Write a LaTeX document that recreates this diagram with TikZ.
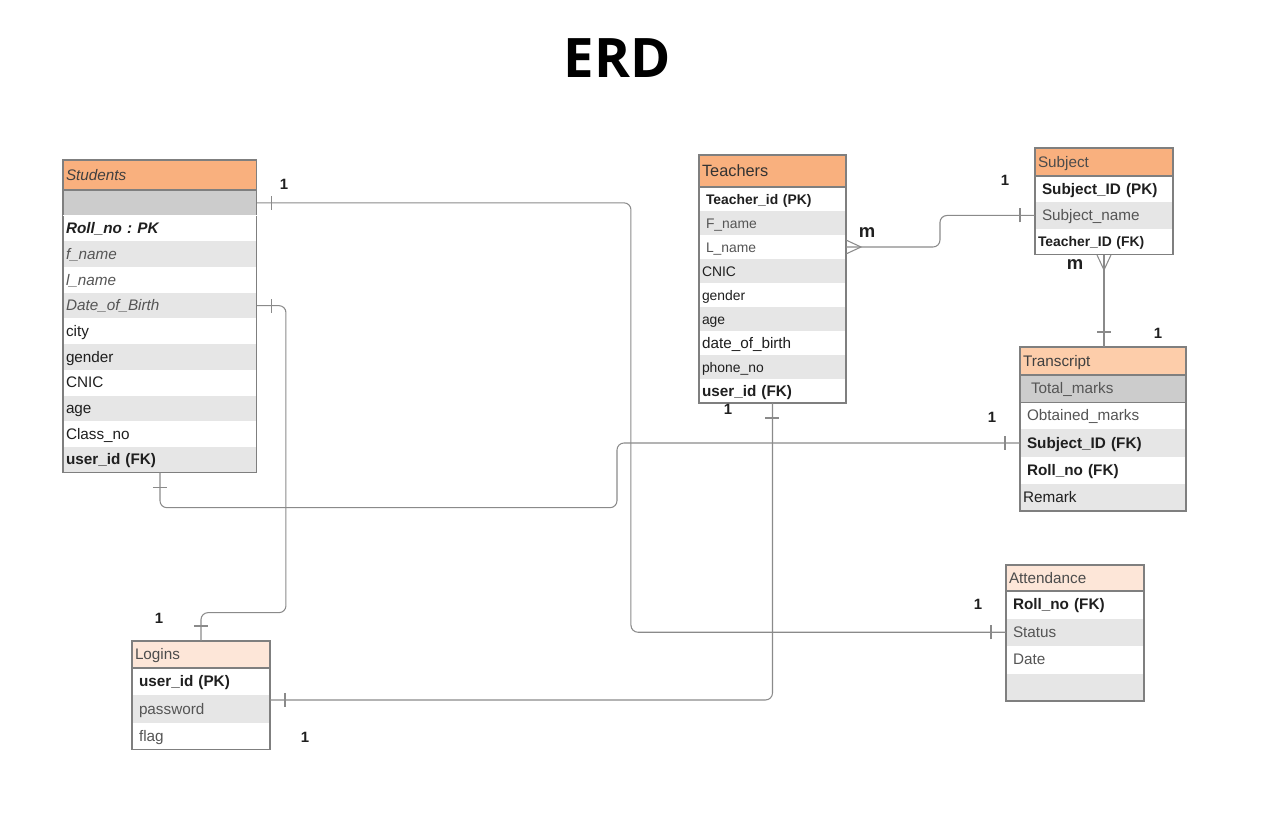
\documentclass[tikz,border=0pt]{standalone}
\usepackage{fontspec}
\setmainfont{Liberation Sans}
\newfontfamily\titlefont{Open Sans}
\usetikzlibrary{decorations.markings}

\definecolor{hdrorange}{HTML}{F9B07E}
\definecolor{hdrpeach}{HTML}{FDCDAA}
\definecolor{hdrpale}{HTML}{FDE6D8}
\definecolor{rowlight}{HTML}{E6E6E6}
\definecolor{rowdark}{HTML}{CCCCCC}
\definecolor{edgegray}{HTML}{7F7F7F}
\definecolor{linegray}{HTML}{8A8A8A}
\definecolor{txt}{HTML}{1F1F1F}
\definecolor{soft}{HTML}{555555}
\newcommand\cellsz{\fontsize{8.7}{10}\selectfont}
\newcommand\smallsz{\fontsize{7.9}{9}\selectfont}

\begin{document}
\begin{tikzpicture}[x=0.02cm, y=-0.02cm]
\tikzstyle{cell} = [anchor=north west, inner xsep=0.06cm, inner ysep=0pt, outer sep=0pt, align=left, text height=1.55ex, text depth=0.45ex]
\tikzstyle{hdr} = [fill=#1]
\tikzstyle{rw} = [fill=white]
\tikzstyle{rg} = [fill=rowlight]
\tikzstyle{rd} = [fill=rowdark]
\tikzstyle{fn} = [font=\cellsz, text=txt]
\tikzstyle{fb} = [font=\cellsz\bfseries, text=txt]
\tikzstyle{fi} = [font=\cellsz\itshape, text=soft]
\tikzstyle{fbi} = [font=\cellsz\bfseries\itshape, text=txt]
\tikzstyle{fs} = [font=\cellsz, text=soft]
\tikzstyle{sn} = [font=\smallsz, text=txt]
\tikzstyle{sb} = [font=\smallsz\bfseries, text=txt]
\tikzstyle{ss} = [font=\smallsz, text=soft]
\tikzstyle{frame} = [draw=edgegray, line width=0.6pt]
\tikzstyle{link} = [draw=linegray, line width=0.6pt, rounded corners=0.14cm]
\tikzstyle{one both} = [postaction={decorate, decoration={markings,
    mark=at position 0.3cm with {\draw[link] (0,-0.14cm) -- (0,0.14cm);},
    mark=at position -0.3cm with {\draw[link] (0,-0.14cm) -- (0,0.14cm);}}}]
\tikzstyle{one end} = [postaction={decorate, decoration={markings,
    mark=at position -0.3cm with {\draw[link] (0,-0.14cm) -- (0,0.14cm);}}}]
\tikzstyle{card} = [font=\fontsize{8.5}{10}\selectfont\bfseries, text=txt, inner sep=0pt]
\useasboundingbox (0,0) rectangle (1287,817);

\node[font=\titlefont\bfseries\fontsize{31}{36}\selectfont] (title) at (617,58) {ERD};

% Students
\node[cell, hdr=hdrorange, fi, text=black!75, text width=3.76cm, minimum height=0.6cm] (stu-h) at (63,160) {Students};
\node[cell, rd, text width=3.76cm, minimum height=0.514cm] (stu-0) at (63,190) {};
\foreach \t/\c/\f [count=\i] in {Roll\_no :\ PK/rw/fbi, f\_name/rg/fi, l\_name/rw/fi, Date\_of\_Birth/rg/fi, city/rw/fn, gender/rg/fn, CNIC/rw/fn, age/rg/fn, Class\_no/rw/fn, user\_id (FK)/rg/fb}
    \node[cell, \c, \f, text width=3.76cm, minimum height=0.514cm] (stu-\i) at (63,{190+\i*25.7}) {\t};
\draw[frame] (stu-h.north west) rectangle (stu-10.south east);
\draw[frame] (stu-h.south west) -- (stu-h.south east);
\draw[white, line width=0.8pt] (stu-0.south west) -- (stu-0.south east);

% Teachers
\node[cell, hdr=hdrorange, font=\fontsize{9.3}{11}\selectfont, text=black!80, text width=2.82cm, minimum height=0.64cm] (tea-h) at (699,155) {Teachers};
\foreach \t/\c/\f [count=\i] in {\hspace{0.08cm}Teacher\_id (PK)/rw/sb, \hspace{0.08cm}F\_name/rg/ss, \hspace{0.08cm}L\_name/rw/ss, CNIC/rg/sn, gender/rw/sn, age/rg/sn, date\_of\_birth/rw/fn, phone\_no/rg/sn, user\_id (FK)/rw/fb}
    \node[cell, \c, \f, text width=2.82cm, minimum height=0.48cm] (tea-\i) at (699,{187+(\i-1)*24}) {\t};
\draw[frame] (tea-h.north west) rectangle (tea-9.south east);
\draw[frame] (tea-h.south west) -- (tea-h.south east);

% Subject
\node[cell, hdr=hdrorange, fs, text=black!70, text width=2.64cm, minimum height=0.56cm] (sub-h) at (1035,148) {Subject};
\foreach \t/\c/\f [count=\i] in {\hspace{0.08cm}Subject\_ID (PK)/rw/fb, \hspace{0.08cm}Subject\_name/rg/fs, Teacher\_ID (FK)/rw/sb}
    \node[cell, \c, \f, text width=2.64cm, minimum height=0.527cm] (sub-\i) at (1035,{176+(\i-1)*26.3}) {\t};
\draw[frame] (sub-h.north west) rectangle (sub-3.south east);
\draw[frame] (sub-h.south west) -- (sub-h.south east);

% Transcript
\node[cell, hdr=hdrpeach, fs, text=black!75, text width=3.2cm, minimum height=0.56cm] (tra-h) at (1020,347) {Transcript};
\foreach \t/\c/\f [count=\i] in {\hspace{0.16cm}Total\_marks/rd/fs, \hspace{0.08cm}Obtained\_marks/rw/fs, \hspace{0.08cm}Subject\_ID (FK)/rg/fb, \hspace{0.08cm}Roll\_no (FK)/rw/fb, Remark/rg/fn}
    \node[cell, \c, \f, text width=3.2cm, minimum height=0.544cm] (tra-\i) at (1020,{375+(\i-1)*27.2}) {\t};
\draw[frame] (tra-h.north west) rectangle (tra-5.south east);
\draw[frame] (tra-h.south west) -- (tra-h.south east);
\draw[frame] (tra-1.south west) -- (tra-1.south east);

% Attendance
\node[cell, hdr=hdrpale, fs, text=black!70, text width=2.64cm, minimum height=0.52cm] (att-h) at (1006,565) {Attendance};
\foreach \t/\c/\f [count=\i] in {\hspace{0.08cm}Roll\_no (FK)/rw/fb, \hspace{0.08cm}Status/rg/fs, \hspace{0.08cm}Date/rw/fs, {}/rg/fn}
    \node[cell, \c, \f, text width=2.64cm, minimum height=0.55cm] (att-\i) at (1006,{591+(\i-1)*27.5}) {\t};
\draw[frame] (att-h.north west) rectangle (att-4.south east);
\draw[frame] (att-h.south west) -- (att-h.south east);

% Logins
\node[cell, hdr=hdrpale, fs, text=black!70, text width=2.64cm, minimum height=0.54cm] (log-h) at (132,641) {Logins};
\foreach \t/\c/\f [count=\i] in {\hspace{0.08cm}user\_id (PK)/rw/fb, \hspace{0.08cm}password/rg/fs, \hspace{0.08cm}flag/rw/fs}
    \node[cell, \c, \f, text width=2.64cm, minimum height=0.547cm] (log-\i) at (132,{668+(\i-1)*27.3}) {\t};
\draw[frame] (log-h.north west) rectangle (log-3.south east);
\draw[frame] (log-h.south west) -- (log-h.south east);

% relations
\draw[link, one both] (stu-0.east) -- ++(374,0) |- (att-2.west); %students to attendance
\draw[link, one both] (stu-4.east) -- ++(29,0) -- ++(0,307) -| (log-h.north); %students to logins
\draw[link, one both] (stu-10.south) -- ++(0,35) -- ++(457,0) |- (tra-3.west); %students to transcript
\draw[link, one both] (tea-9.south) |- ([yshift=0.18cm]log-2.east); %teachers to logins
\draw[link, one end] (tea-3.east) -- ++(94,0) |- (sub-2.west); %teachers to subject
\draw[link, one end] (sub-3.south) -- (sub-3.south |- tra-h.north); %subject to transcript
\draw[link, sharp corners] (tea-3.east) ++(0,-7) -- ++(15,7) -- ++(-15,7); %many
\draw[link, sharp corners] (sub-3.south) ++(-7,0) -- ++(7,15) -- ++(7,-15); %many

% cardinalities
\node[card] (c1) at (284,184) {1};
\node[card] (c2) at (1005,180) {1};
\node[card, font=\fontsize{10.5}{12}\selectfont\bfseries] (c3) at (867,233) {m};
\node[card, font=\fontsize{10.5}{12}\selectfont\bfseries] (c4) at (1075,265) {m};
\node[card] (c5) at (1158,333) {1};
\node[card] (c6) at (992,417) {1};
\node[card] (c7) at (728,409) {1};
\node[card] (c8) at (978,604) {1};
\node[card] (c9) at (159,618) {1};
\node[card] (c10) at (305,737) {1};
\end{tikzpicture}
\end{document}
